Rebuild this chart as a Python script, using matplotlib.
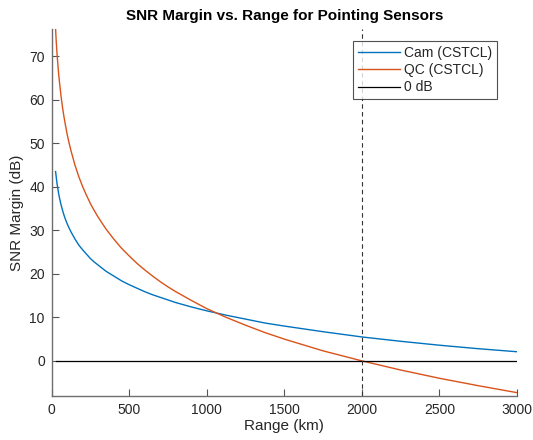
import matplotlib
matplotlib.use("Agg")
import matplotlib.pyplot as plt

# Data
range_km = [25, 27, 30, 32, 35, 40, 45, 50, 60, 70, 80, 90, 100, 110, 125, 150, 175, 200,
            225, 250, 275, 300, 350, 400, 450, 500, 550, 600, 650, 700, 750, 800, 900,
            1000, 1125, 1250, 1375, 1500, 1750, 2000, 2250, 2500, 2750, 3000]
cam_db = [43.5, 42.9, 42.0, 41.4, 40.6, 39.5, 38.4, 37.5, 35.9, 34.6, 33.4, 32.4, 31.5,
          30.7, 29.6, 28.0, 26.6, 25.5, 24.5, 23.5, 22.7, 22.0, 20.6, 19.5, 18.4, 17.5,
          16.7, 15.9, 15.2, 14.6, 14.0, 13.4, 12.4, 11.5, 10.5, 9.6, 8.7, 8.0, 6.7, 5.5,
          4.5, 3.6, 2.8, 2.1]
qc_db = [76.5, 74.8, 73.0, 71.8, 70.3, 68.0, 65.9, 64.1, 60.9, 58.2, 55.9, 53.9, 52.0,
         50.4, 48.2, 45.0, 42.3, 40.0, 38.0, 36.1, 34.5, 33.0, 30.3, 28.0, 25.9, 24.1,
         22.4, 20.9, 19.5, 18.2, 17.0, 15.9, 13.9, 12.0, 10.0, 8.2, 6.5, 5.0, 2.3, 0.0,
         -2.1, -4.0, -5.7, -7.3]
zero_db = [0.0 for _ in range_km]
threshold_range = 2000

series_labels = ["Cam (CSTCL)", "QC (CSTCL)", "0 dB"]
x_ticks = [0, 500, 1000, 1500, 2000, 2500, 3000]
y_ticks = [0, 10, 20, 30, 40, 50, 60, 70]

plt.rcParams['font.family'] = ['Liberation Sans', 'DejaVu Sans']

fig = plt.figure(figsize=(5.33, 4.4), dpi=100)
ax = fig.add_axes([0.097, 0.1007, 0.873, 0.8327])

axcol = '#262626'
ax.plot(range_km, cam_db, color='#0072BD', lw=1.0, label=series_labels[0])
ax.plot(range_km, qc_db, color='#D95319', lw=1.0, label=series_labels[1])
ax.plot(range_km, zero_db, color='black', lw=0.9, label=series_labels[2])
ax.axvline(threshold_range, color='#333333', lw=0.8, ls=(0, (4, 3)))

ax.set_xlim(0, 3000)
ax.set_ylim(-8, 76.2)
ax.set_xticks(x_ticks)
ax.set_yticks(y_ticks)

for s in ['top', 'right']:
    ax.spines[s].set_visible(False)
for s in ['left', 'bottom']:
    ax.spines[s].set_color('#6e6e6e')
    ax.spines[s].set_linewidth(1.0)
ax.tick_params(direction='in', length=5, width=0.8, color='#555555',
               labelsize=10, labelcolor=axcol, pad=5)

ax.set_title("SNR Margin vs. Range for Pointing Sensors", fontsize=11,
             fontweight='bold', color='black', pad=7)
ax.set_xlabel("Range (km)", fontsize=11, color=axcol, labelpad=2)
ax.set_ylabel("SNR Margin (dB)", fontsize=11, color=axcol, labelpad=4)

leg = ax.legend(loc='upper right', bbox_to_anchor=(0.9564, 0.969), borderaxespad=0,
                fontsize=10, frameon=True, fancybox=False, handlelength=3.0,
                handletextpad=0.3, labelspacing=0.25, borderpad=0.35)
leg.get_frame().set_edgecolor('#262626')
leg.get_frame().set_linewidth(0.8)
for t in leg.get_texts():
    t.set_color(axcol)

fig.savefig("out.png", dpi=100)
